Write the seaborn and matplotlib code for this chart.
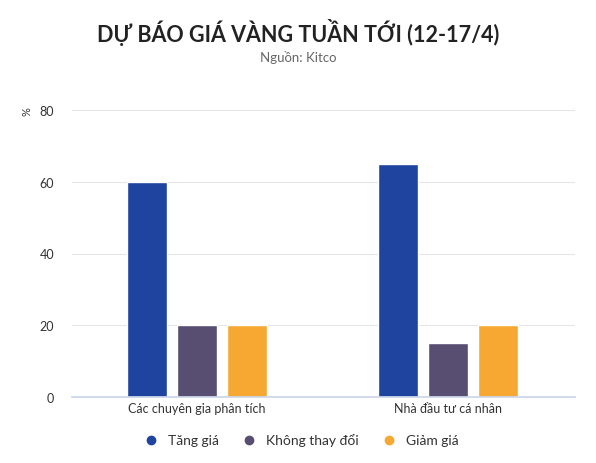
import matplotlib
matplotlib.use("Agg")
import matplotlib.pyplot as plt
import seaborn as sns
import pandas as pd

categories = ["Các chuyên gia phân tích", "Nhà đầu tư cá nhân"]
series = ["Tăng giá", "Không thay đổi", "Giảm giá"]
values = {"Tăng giá": [60, 65], "Không thay đổi": [20, 15], "Giảm giá": [20, 20]}
colors = ["#1f44a0", "#574e72", "#f6a833"]

rows = [(c, s, values[s][i]) for s in series for i, c in enumerate(categories)]
df = pd.DataFrame(rows, columns=["cat", "series", "val"])

sns.set_theme(style="white")
plt.rcParams['font.family'] = ['Lato', 'DejaVu Sans']
fig = plt.figure(figsize=(5.96, 4.64), dpi=100)
ax = fig.add_axes([72/596, 1-398/464, 503/596, (398-111)/464])
sns.barplot(data=df, x="cat", y="val", hue="series", palette=colors, width=0.6, gap=0.2,
            ax=ax, legend=False, saturation=1)
ax.set_xlim(-0.498, 1.506)
ax.set_ylim(0, 80)
ax.set_yticks([0, 20, 40, 60, 80])
ax.yaxis.grid(True, color="#e6e6e6", lw=0.8)
ax.set_axisbelow(True)
for s in ["top", "right", "left"]:
    ax.spines[s].set_visible(False)
ax.spines["bottom"].set_color("#ccd6eb")
ax.tick_params(axis="y", length=0, labelsize=9, colors="#333333", pad=13)
ax.tick_params(axis="x", length=0, labelsize=9, colors="#333333")
ax.set_xlabel(""); ax.set_ylabel("")
fig.text(27/596, 1-112/464, "%", rotation=90, fontsize=8, ha="center", va="center", color="#333333")
fig.text(0.5, 1-33/464, "DỰ BÁO GIÁ VÀNG TUẦN TỚI (12-17/4)", ha="center", va="center",
         fontsize=15.5, fontweight="bold", color="#222222")
fig.text(0.5, 1-58/464, "Nguồn: Kitco", ha="center", va="center", fontsize=9.5, color="#666666")
from matplotlib.lines import Line2D
handles = [Line2D([], [], marker="o", ls="", color=c, markersize=6) for c in colors]
fig.legend(handles, series, loc="center", bbox_to_anchor=(0.5, 1-441/464), ncol=3,
           frameon=False, fontsize=10, handletextpad=0.2, columnspacing=1.2,
           labelcolor="#333333")
fig.savefig("out.png", dpi=100)
